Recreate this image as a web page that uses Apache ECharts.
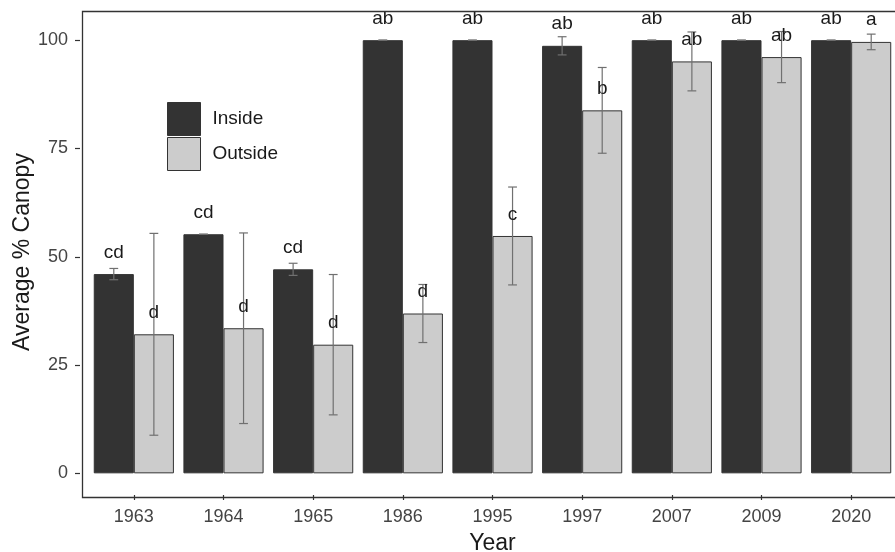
<!DOCTYPE html>
<html>
<head>
<meta charset="utf-8">
<script src="https://cdn.jsdelivr.net/npm/echarts@6/dist/echarts.min.js"></script>
<style>
  html, body { margin: 0; padding: 0; background: #ffffff; }
  #chart { width: 895px; height: 552px; }
</style>
</head>
<body>
<div id="chart"></div>
<script>
// Canopy cover by survey year, inside vs outside, with ± error and group letters
const years = ['1963', '1964', '1965', '1986', '1995', '1997', '2007', '2009', '2020'];
const insideMean = [46.0, 55.2, 47.1, 100, 100, 98.7, 100, 100, 100];
const insideErr = [1.3, 0, 1.4, 0, 0, 2.1, 0, 0, 0];
const insideLetters = ['cd', 'cd', 'cd', 'ab', 'ab', 'ab', 'ab', 'ab', 'ab'];
const outsideMean = [32.1, 33.5, 29.7, 36.9, 54.8, 83.8, 95.1, 96.1, 99.6];
const outsideErr = [23.3, 22.0, 16.2, 6.7, 11.3, 9.9, 6.8, 5.9, 1.8];
const outsideLetters = ['d', 'd', 'd', 'd', 'c', 'b', 'ab', 'ab', 'a'];
const yTicks = [0, 25, 50, 75, 100];
const letterLift = 5;          // letters are placed this many units above the mean

const FONT = '"Liberation Sans", Arial, sans-serif';
const BAR_SHARE = 0.447;       // each bar's share of the category band
const INK = '#333333';

function errorSeries(name, means, errs, letters, side) {
  return {
    type: 'custom',
    name: name,
    z: 5,
    clip: false,
    data: means.map((m, i) => [i, m, errs[i]]),
    encode: { x: 0, y: 1 },
    renderItem: function (params, api) {
      const i = api.value(0);
      const m = api.value(1);
      const e = api.value(2);
      const band = api.size([1, 0])[0];
      const dx = side * band * BAR_SHARE / 2;
      const top = api.coord([i, m + e]);
      const bot = api.coord([i, m - e]);
      const lab = api.coord([i, m + letterLift]);
      const x = top[0] + dx;
      const cap = band * BAR_SHARE * 0.11;
      const ls = { stroke: '#707070', lineWidth: 1.2 };
      return {
        type: 'group',
        children: [
          { type: 'line', shape: { x1: x, y1: top[1], x2: x, y2: bot[1] }, style: ls },
          { type: 'line', shape: { x1: x - cap, y1: top[1], x2: x + cap, y2: top[1] }, style: ls },
          { type: 'line', shape: { x1: x - cap, y1: bot[1], x2: x + cap, y2: bot[1] }, style: ls },
          {
            type: 'text', x: x, y: lab[1], z2: 10,
            style: {
              text: letters[params.dataIndex],
              align: 'center', verticalAlign: 'middle',
              fontSize: 19, fontFamily: FONT, fill: '#1a1a1a'
            }
          }
        ]
      };
    }
  };
}

const chart = echarts.init(document.getElementById('chart'), null, { renderer: 'canvas' });

chart.setOption({
  animation: false,
  backgroundColor: '#ffffff',
  textStyle: { fontFamily: FONT },
  grid: { left: 89, right: -1, top: 9, bottom: 57, containLabel: false, outerBoundsMode: 'none' },
  legend: {
    data: ['Inside', 'Outside'],
    orient: 'vertical',
    left: 167,
    top: 102,
    padding: 0,
    itemWidth: 33,
    itemHeight: 33,
    itemGap: 1,
    icon: 'rect',
    itemStyle: { borderWidth: 1, borderColor: INK },
    textStyle: { fontSize: 19, color: '#1a1a1a', fontFamily: FONT, padding: [0, 0, 0, 7] }
  },
  graphic: [{
    type: 'rect',
    left: 80, top: 9, z: 20, silent: true,
    shape: { width: 825, height: 486 },
    style: { fill: 'none', stroke: INK, lineWidth: 1.3 }
  }],
  xAxis: {
    type: 'category',
    data: years,
    axisLine: { show: false, onZero: false },
    axisTick: { show: true, alignWithLabel: true, length: 5, lineStyle: { color: INK, width: 1.2 } },
    axisLabel: { margin: 13, fontSize: 18, color: '#444444', fontFamily: FONT },
    name: 'Year',
    nameLocation: 'middle',
    nameGap: 37,
    nameMoveOverlap: false,
    nameTextStyle: { fontSize: 23, color: '#1a1a1a', fontFamily: FONT }
  },
  yAxis: {
    type: 'value',
    min: -5,
    max: 107.2,
    offset: 9,
    splitLine: { show: false },
    axisLine: { show: false },
    axisTick: { show: true, length: 5, customValues: yTicks, lineStyle: { color: INK, width: 1.2 } },
    axisLabel: { customValues: yTicks, margin: 12, fontSize: 18, color: '#444444', fontFamily: FONT },
    name: 'Average % Canopy',
    nameLocation: 'middle',
    nameGap: 46,
    nameMoveOverlap: false,
    nameTextStyle: { fontSize: 23, color: '#1a1a1a', fontFamily: FONT }
  },
  series: [
    {
      type: 'bar', name: 'Inside', data: insideMean,
      barWidth: (BAR_SHARE * 100) + '%', barGap: '0%',
      itemStyle: { color: '#333333', borderColor: INK, borderWidth: 1 }
    },
    {
      type: 'bar', name: 'Outside', data: outsideMean,
      barWidth: (BAR_SHARE * 100) + '%', barGap: '0%',
      itemStyle: { color: '#cccccc', borderColor: INK, borderWidth: 1 }
    },
    errorSeries('Inside error', insideMean, insideErr, insideLetters, -1),
    errorSeries('Outside error', outsideMean, outsideErr, outsideLetters, 1)
  ]
});
</script>
</body>
</html>
